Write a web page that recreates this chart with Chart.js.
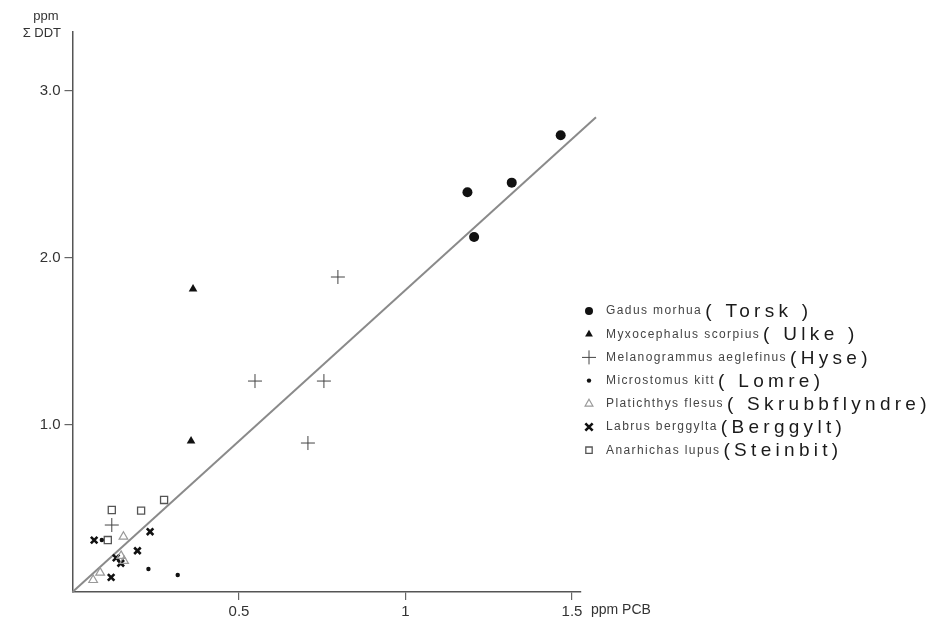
<!DOCTYPE html>
<html>
<head>
<meta charset="utf-8">
<script src="https://cdn.jsdelivr.net/npm/chart.js@4/dist/chart.umd.min.js"></script>
<style>
  html, body { margin: 0; padding: 0; background: #fff; }
  canvas { display: block; }
</style>
</head>
<body>
<canvas id="c" width="939" height="623"></canvas>
<script>
// ΣDDT against PCB (both in ppm), one series per fish species
const torsk         = [[1.186, 2.393], [1.319, 2.451], [1.206, 2.126], [1.466, 2.735]];
const ulke          = [[0.362, 1.814], [0.356, 0.904]];
const hyse          = [[0.797, 1.886], [0.548, 1.263], [0.755, 1.263], [0.707, 0.892], [0.118, 0.401]];
const lomre         = [[0.088, 0.311], [0.228, 0.138], [0.316, 0.102]];
const skrubbflyndre = [[0.153, 0.331], [0.146, 0.216], [0.155, 0.186], [0.083, 0.116], [0.062, 0.072]];
const berggylt      = [[0.065, 0.311], [0.233, 0.361], [0.195, 0.247], [0.131, 0.204], [0.145, 0.172], [0.116, 0.088]];
const steinbit      = [[0.118, 0.491], [0.206, 0.487], [0.275, 0.551], [0.106, 0.311]];

// regression line through the origin
const fitLine = [[0, 0], [1.572, 2.843]];

const xTicks = [0.5, 1, 1.5];
const yTicks = [1, 2, 3];
const xMax = 1.527;
const yMax = 3.353;

const speciesNames = [
  'Gadus morhua', 'Myxocephalus scorpius', 'Melanogrammus aeglefinus',
  'Microstomus kitt', 'Platichthys flesus', 'Labrus berggylta', 'Anarhichas lupus'
];
const localNames = [
  '( Torsk )', '( Ulke )', '(Hyse)', '( Lomre)', '( Skrubbflyndre)', '(Berggylt)', '(Steinbit)'
];

const toXY = arr => arr.map(p => ({ x: p[0], y: p[1] }));

const NONE = 'rgba(0,0,0,0)';
// marker styles: [pointStyle, radius, fill, stroke, borderWidth, legendRadius]
const markers = [
  ['circle',   5,   '#111', '#111', 0,   4],
  ['triangle', 5,   '#111', '#111', 0,   4.5],
  ['cross',    7,   NONE,   '#444', 1,   7],
  ['circle',   2.2, '#111', '#111', 0,   2.2],
  ['triangle', 5,   NONE,   '#999', 1.2, 4.5],
  ['crossRot', 4.6, '#111', '#111', 2.6, 4.3],
  ['rect',     5,   NONE,   '#555', 1.3, 4.5]
];
const seriesData = [torsk, ulke, hyse, lomre, skrubbflyndre, berggylt, steinbit];

const datasets = [{
  label: 'fit',
  data: toXY(fitLine),
  showLine: true,
  borderColor: '#8a8a8a',
  borderWidth: 2,
  pointRadius: 0,
  clip: false,
  order: 10
}];
seriesData.forEach((d, i) => {
  const m = markers[i];
  datasets.push({
    label: speciesNames[i],
    data: toXY(d),
    pointStyle: m[0],
    pointRadius: m[1],
    pointHoverRadius: m[1],
    backgroundColor: m[2],
    borderColor: m[3],
    pointBorderWidth: m[4],
    borderWidth: m[4],
    showLine: false,
    clip: false,
    order: i
  });
});

const textColor = '#333';

// legend shapes
function drawMarker(ctx, style, x, y, r) {
  if (style === 'circle') {
    ctx.arc(x, y, r, 0, Math.PI * 2);
  } else if (style === 'triangle') {
    const s = r * Math.sqrt(3);
    ctx.moveTo(x, y - r);
    ctx.lineTo(x + s / 2, y + r / 2);
    ctx.lineTo(x - s / 2, y + r / 2);
    ctx.closePath();
  } else if (style === 'cross') {
    ctx.moveTo(x - r, y); ctx.lineTo(x + r, y);
    ctx.moveTo(x, y - r); ctx.lineTo(x, y + r);
  } else if (style === 'crossRot') {
    const d = r * Math.SQRT1_2 * 1.2;
    ctx.moveTo(x - d, y - d); ctx.lineTo(x + d, y + d);
    ctx.moveTo(x + d, y - d); ctx.lineTo(x - d, y + d);
  } else if (style === 'rect') {
    const s = r * Math.SQRT2;
    ctx.rect(x - s / 2, y - s / 2, s, s);
  }
}

const annotations = {
  id: 'annotations',
  afterDraw(chart) {
    const ctx = chart.ctx;
    ctx.save();
    ctx.fillStyle = textColor;
    ctx.textBaseline = 'middle';

    // axis titles
    ctx.font = '13px "Liberation Sans", Arial, sans-serif';
    ctx.textAlign = 'center';
    ctx.fillText('ppm', 46, 16);
    ctx.textAlign = 'right';
    ctx.fillText('Σ DDT', 61, 33);
    ctx.textAlign = 'left';
    ctx.font = '14px "Liberation Sans", Arial, sans-serif';
    ctx.fillText('ppm PCB', 591, 610);

    // legend
    const lx = 589, ly0 = 311, dy = 23.2;
    for (let i = 0; i < speciesNames.length; i++) {
      const m = markers[i];
      const y = ly0 + i * dy;
      ctx.fillStyle = m[2];
      ctx.strokeStyle = m[3];
      ctx.lineWidth = m[4];
      ctx.beginPath();
      drawMarker(ctx, m[0], lx, y, m[5]);
      if (m[2] !== NONE && m[0] !== 'cross' && m[0] !== 'crossRot') ctx.fill();
      if (m[4] > 0) ctx.stroke();

      ctx.fillStyle = '#444';
      ctx.font = '12px "Liberation Sans", Arial, sans-serif';
      ctx.letterSpacing = '1.4px';
      ctx.fillText(speciesNames[i], 606, y);
      const w = ctx.measureText(speciesNames[i]).width;
      ctx.fillStyle = '#1a1a1a';
      ctx.font = '19px "Liberation Sans", Arial, sans-serif';
      ctx.letterSpacing = '4.3px';
      ctx.fillText(localNames[i], 606 + w + 3, y + 1);
      ctx.letterSpacing = '0px';
    }
    ctx.restore();
  }
};

new Chart(document.getElementById('c'), {
  type: 'scatter',
  data: { datasets },
  plugins: [annotations],
  options: {
    responsive: false,
    animation: false,
    events: [],
    layout: { padding: { top: 32, right: 358, left: 0, bottom: 0 } },
    plugins: { legend: { display: false }, tooltip: { enabled: false } },
    scales: {
      x: {
        type: 'linear',
        min: 0,
        max: xMax,
        afterBuildTicks: s => { s.ticks = xTicks.map(v => ({ value: v })); },
        afterFit: s => { s.height = 31; },
        grid: { drawOnChartArea: false, drawTicks: true, tickLength: 8, color: '#666', lineWidth: 1.2 },
        border: { display: true, color: '#555', width: 1.5 },
        ticks: {
          autoSkip: false,
          maxRotation: 0,
          padding: 3,
          color: textColor,
          font: { family: '"Liberation Sans", Arial, sans-serif', size: 15 },
          callback: v => String(v)
        }
      },
      y: {
        type: 'linear',
        min: 0,
        max: yMax,
        afterBuildTicks: s => { s.ticks = yTicks.map(v => ({ value: v })); },
        afterFit: s => { s.width = 72.5; },
        grid: { drawOnChartArea: false, drawTicks: true, tickLength: 8, color: '#666', lineWidth: 1.2 },
        border: { display: true, color: '#555', width: 1.5 },
        ticks: {
          autoSkip: false,
          padding: 4,
          color: textColor,
          font: { family: '"Liberation Sans", Arial, sans-serif', size: 15 },
          callback: v => Number(v).toFixed(1)
        }
      }
    }
  }
});
</script>
</body>
</html>
